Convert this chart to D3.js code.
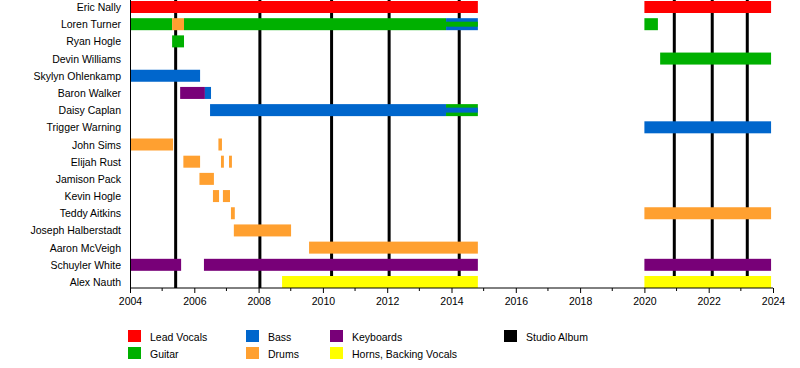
<!DOCTYPE html>
<html>
<head>
<meta charset="utf-8">
<script src="https://cdn.jsdelivr.net/npm/d3@7"></script>
<style>
  html, body { margin: 0; padding: 0; background: #fff; }
  svg text { font-family: "Liberation Sans", Arial, sans-serif; font-size: 10.5px; fill: #000; }
</style>
</head>
<body>
<svg id="chart" width="800" height="368"></svg>
<script>
// ---- data ----
const members = ["Eric Nally","Loren Turner","Ryan Hogle","Devin Williams","Skylyn Ohlenkamp",
  "Baron Walker","Daisy Caplan","Trigger Warning","John Sims","Elijah Rust","Jamison Pack",
  "Kevin Hogle","Teddy Aitkins","Joseph Halberstadt","Aaron McVeigh","Schuyler White","Alex Nauth"];

const roles = ["Lead Vocals","Guitar","Bass","Drums","Keyboards","Horns, Backing Vocals"];
const roleColors = ["#ff0000","#00b000","#0066cc","#ffa030","#780078","#ffff00"];

// [member, role, start, end]
const periods = [
  ["Eric Nally","Lead Vocals",2004.0,2014.82],
  ["Eric Nally","Lead Vocals",2020.0,2023.94],
  ["Loren Turner","Guitar",2004.0,2005.31],
  ["Loren Turner","Drums",2005.31,2005.68],
  ["Loren Turner","Guitar",2005.68,2013.83],
  ["Loren Turner","Bass",2013.83,2014.82],
  ["Loren Turner","Guitar",2020.0,2020.42],
  ["Ryan Hogle","Guitar",2005.31,2005.68],
  ["Devin Williams","Guitar",2020.49,2023.94],
  ["Skylyn Ohlenkamp","Bass",2004.0,2006.18],
  ["Baron Walker","Keyboards",2005.56,2006.33],
  ["Baron Walker","Bass",2006.33,2006.52],
  ["Daisy Caplan","Bass",2006.49,2013.83],
  ["Daisy Caplan","Guitar",2013.83,2014.82],
  ["Trigger Warning","Bass",2020.0,2023.94],
  ["John Sims","Drums",2004.0,2005.34],
  ["John Sims","Drums",2006.75,2006.86],
  ["Elijah Rust","Drums",2005.66,2006.18],
  ["Elijah Rust","Drums",2006.83,2006.92],
  ["Elijah Rust","Drums",2007.08,2007.17],
  ["Jamison Pack","Drums",2006.16,2006.61],
  ["Kevin Hogle","Drums",2006.58,2006.77],
  ["Kevin Hogle","Drums",2006.89,2007.11],
  ["Teddy Aitkins","Drums",2007.14,2007.26],
  ["Teddy Aitkins","Drums",2020.0,2023.94],
  ["Joseph Halberstadt","Drums",2007.23,2009.01],
  ["Aaron McVeigh","Drums",2009.57,2014.82],
  ["Schuyler White","Keyboards",2004.0,2005.59],
  ["Schuyler White","Keyboards",2006.30,2014.82],
  ["Schuyler White","Keyboards",2020.0,2023.94],
  ["Alex Nauth","Horns, Backing Vocals",2008.73,2014.82],
  ["Alex Nauth","Horns, Backing Vocals",2020.0,2023.94]
];

// secondary (thin) role bars drawn on top
const secondary = [
  ["Loren Turner","Guitar",2013.83,2014.82],
  ["Daisy Caplan","Bass",2013.83,2014.82]
];

const albums = [2005.42, 2008.04, 2010.27, 2012.06, 2014.24, 2020.93, 2022.11, 2023.20];
const majorTicks = [2004,2006,2008,2010,2012,2014,2016,2018,2020,2022,2024];
const minorTicks = d3.range(2004, 2025, 1);

// legend layout: [label, column, row]
const legendItems = [
  ["Lead Vocals",0,0],["Guitar",0,1],["Bass",1,0],["Drums",1,1],
  ["Keyboards",2,0],["Horns, Backing Vocals",2,1],["Studio Album",3,0]
];

// ---- drawing ----
const svg = d3.select("#chart");
const color = d3.scaleOrdinal().domain(roles.concat(["Studio Album"])).range(roleColors.concat(["#000000"]));
const x = d3.scaleLinear().domain([2004, 2024]).range([130, 773]);
const y = d3.scalePoint().domain(members).range([7, 282]);
const barH = 12, thinH = 5;
const plotTop = 0, plotBottom = 288;

// album lines
svg.append("g").selectAll("line").data(albums).join("line")
  .attr("x1", d => x(d)).attr("x2", d => x(d))
  .attr("y1", plotTop).attr("y2", plotBottom)
  .attr("stroke", "#000").attr("stroke-width", 3);

// bars
svg.append("g").selectAll("rect").data(periods).join("rect")
  .attr("x", d => x(d[2]))
  .attr("width", d => x(d[3]) - x(d[2]))
  .attr("y", d => y(d[0]) - barH / 2)
  .attr("height", barH)
  .attr("fill", d => color(d[1]));

svg.append("g").selectAll("rect").data(secondary).join("rect")
  .attr("x", d => x(d[2]))
  .attr("width", d => x(d[3]) - x(d[2]))
  .attr("y", d => y(d[0]) - thinH / 2)
  .attr("height", thinH)
  .attr("fill", d => color(d[1]));

// member labels
svg.append("g").selectAll("text").data(members).join("text")
  .attr("x", 121).attr("y", d => y(d) + 4)
  .attr("text-anchor", "end").text(d => d);

// axes
const ax = svg.append("g").attr("transform", `translate(0,${plotBottom})`);
ax.call(d3.axisBottom(x).tickValues(majorTicks).tickFormat(d3.format("d")).tickSize(5).tickPadding(5));
ax.selectAll(".tick text").attr("font-size", null).attr("font-family", null);
ax.select(".domain").attr("d", `M${x(2004)},0H${x(2024)}`);
ax.append("g").selectAll("line").data(minorTicks.filter(t => !majorTicks.includes(t))).join("line")
  .attr("x1", d => x(d)).attr("x2", d => x(d)).attr("y1", 0).attr("y2", 3)
  .attr("stroke", "#000");
ax.selectAll(".tick text").attr("dy", "0.71em");

svg.append("line")
  .attr("x1", x(2004) + 0.5).attr("x2", x(2004) + 0.5)
  .attr("y1", plotTop).attr("y2", plotBottom)
  .attr("stroke", "#000").attr("stroke-width", 1);

// legend
const colX = [128, 246, 330, 504];
const rowY = [330, 347];
const lg = svg.append("g").selectAll("g").data(legendItems).join("g")
  .attr("transform", d => `translate(${colX[d[1]]},${rowY[d[2]]})`);
lg.append("rect").attr("width", 13).attr("height", 12).attr("fill", d => color(d[0]));
lg.append("text").attr("x", 22).attr("y", 11).text(d => d[0]);
</script>
</body>
</html>
